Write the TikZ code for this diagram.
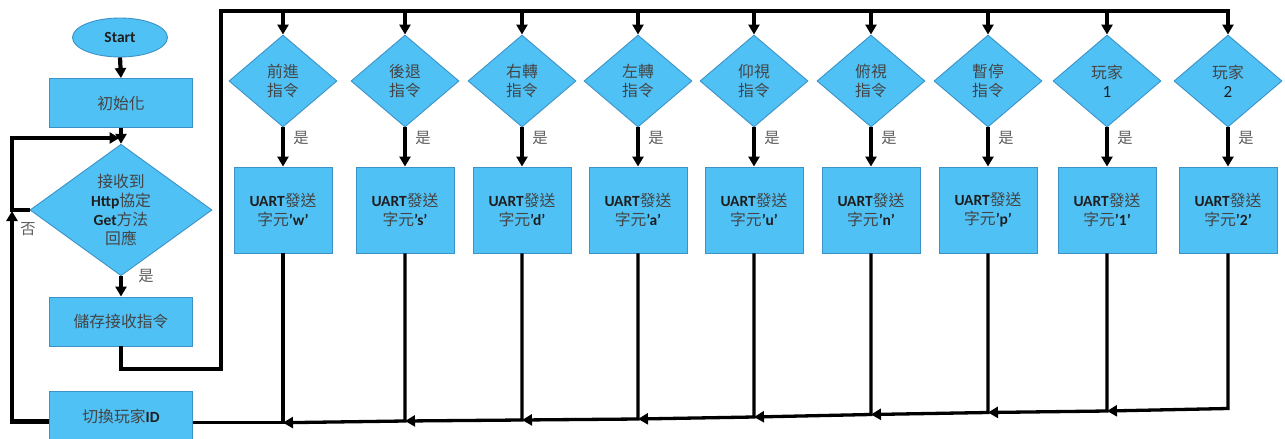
\documentclass[tikz,border=0pt]{standalone}
\usepackage{fontspec}
\setmainfont{Carlito}
\newfontfamily\cjkf[Scale=1.02]{Noto Sans CJK TC}
\usetikzlibrary{shapes.geometric,arrows.meta}
\definecolor{boxblue}{RGB}{80,193,245}
\definecolor{boxedge}{RGB}{60,146,198}
\definecolor{ink}{RGB}{30,30,30}
\definecolor{zhink}{RGB}{68,68,68}
\definecolor{tagink}{RGB}{95,95,95}
\newcommand\zh[1]{{\cjkf\color{zhink}#1}}
\newcommand\lb[1]{\textbf{#1}}
\newcommand\num[1]{{\fontsize{17pt}{19pt}\selectfont #1}}
\tikzset{
  shapebase/.style={fill=boxblue, draw=boxedge, line width=0.9pt, text=ink,
    align=center, inner sep=0pt, font=\fontsize{15.5pt}{19pt}\selectfont},
  procbox/.style={shapebase, rectangle, minimum width=143pt, minimum height=49pt},
  sendbox/.style={shapebase, rectangle, minimum width=98pt, minimum height=86pt},
  decide/.style={shapebase, diamond, minimum width=108pt, minimum height=92pt},
  bigdecide/.style={shapebase, diamond, minimum width=182pt, minimum height=116pt},
  terminal/.style={shapebase, ellipse, minimum width=95pt, minimum height=39pt},
  tip/.style={-{Triangle[length=10pt,width=11pt]}},
  flow/.style={line width=4.2pt, line join=miter, tip},
  bus/.style={line width=4.6pt, line join=miter},
  ret/.style={line width=3.3pt, line join=miter},
  tag/.style={text=tagink, inner sep=0pt, font=\cjkf\fontsize{15pt}{17pt}\selectfont}
}
\begin{document}
\begin{tikzpicture}[x=1pt,y=-1pt]
\useasboundingbox (0,0) rectangle (1285,439);

% left column: main sequence
\node[terminal] (start) at (120,37.5) {\lb{Start}};
\node[procbox] (init) at (121,103) {\zh{初始化}};
\node[bigdecide] (recv) at (121,210) {\zh{接收到}\\\lb{Http}\zh{協定}\\\lb{Get}\zh{方法}\\\zh{回應}};
\node[procbox] (store) at (121,321.5) {\zh{儲存接收指令}};
\node[procbox, minimum height=50pt] (switch) at (121,416.5) {\zh{切換玩家}\lb{ID}};

\draw[flow] (start.south) -- (init.north);
\draw[flow] (init.south) -- (recv.north);
\draw[flow] (recv.south) -- (store.north);
\node[tag] (yes0) at (146,276) {是};

% "no" branch loops back above the decision
\coordinate (loopbot) at (12,210);
\coordinate (looptop) at (12,138);
\draw[flow, shorten >=1.5pt] (recv.west) -- (loopbot) -- (looptop) -- (init.south |- looptop);
\node[tag] (no0) at (28,229) {否};

% command bus along the top
\coordinate (busa) at (121,369);
\coordinate (busb) at (221,369);
\coordinate (busc) at (221,11);

% command columns
\foreach \i/\x/\by/\ta/\tb/\ch in {
  1/283/422.7/{\zh{前進}}/{\zh{指令}}/w,
  2/405/421/{\zh{後退}}/{\zh{指令}}/s,
  3/522/420/{\zh{右轉}}/{\zh{指令}}/d,
  4/638/419/{\zh{左轉}}/{\zh{指令}}/a,
  5/754/417/{\zh{仰視}}/{\zh{指令}}/u,
  6/871/414.5/{\zh{俯視}}/{\zh{指令}}/n,
  7/988/412.5/{\zh{暫停}}/{\zh{指令}}/p,
  8/1107/411/{\zh{玩家}}/{\num{1}}/1,
  9/1228/408.5/{\zh{玩家}}/{\num{2}}/2}{
  \node[decide] (d\i) at (\x,81) {\ta\\\tb};
  \node[sendbox] (u\i) at (\x,210) {\lb{UART}\zh{發送}\\\zh{字元}\lb{’\ch’}};
  \node[tag] (y\i) at (\x+18,138) {是};
  \coordinate (b\i) at (\x,\by);
  \draw[flow] (d\i.south) -- (u\i.north);
}

\draw[bus] (store.south) -- (busa) -- (busb) -- (busc) -- (d9.north |- busc);
\draw[flow] (d9.north |- busc) ++(-2.3,0) -- ++(2.3,0) -- (d9.north);
\foreach \i in {1,...,8}{
  \draw[flow] (d\i.north |- busc) -- (d\i.north);
}

% return path to the player switch
\draw[ret] (u1.south) -- (b1) -- (switch.east |- b1);
\foreach \i/\j in {2/1,3/2,4/3,5/4,6/5,7/6,8/7,9/8}{
  \draw[ret, tip] (u\i.south) -- (b\i) -- (b\j);
}
\coordinate (swl) at (12,421.5);
\draw[flow, shorten >=1pt] (switch.west |- swl) -- (swl) -- (loopbot);
\end{tikzpicture}
\end{document}
